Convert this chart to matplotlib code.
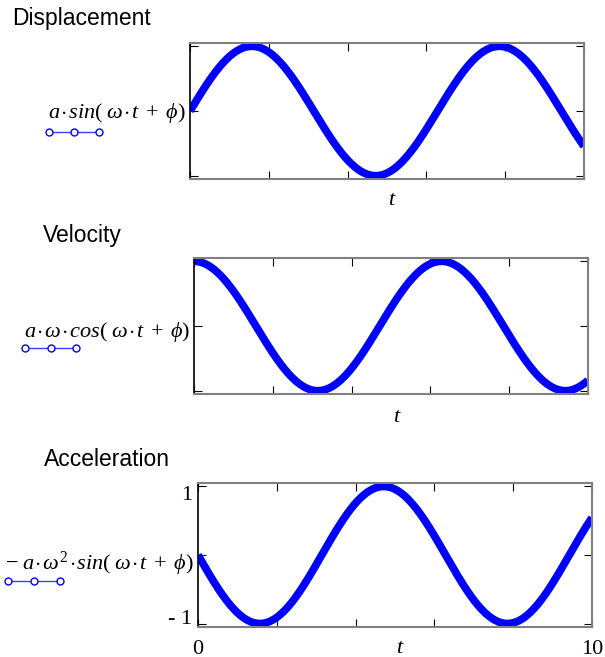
import numpy as np
import matplotlib
matplotlib.use("Agg")
import matplotlib.pyplot as plt
from matplotlib.lines import Line2D

matplotlib.rcParams["mathtext.fontset"] = "custom"
matplotlib.rcParams["mathtext.rm"] = "Liberation Serif"
matplotlib.rcParams["mathtext.it"] = "Liberation Serif:italic"
matplotlib.rcParams["mathtext.bf"] = "Liberation Serif:bold"

# motion parameters for x(t) = a*sin(w*t + phi)
a = 1.0
omega = 1.0
phi = 0.0
t_min, t_max = 0, 10
t = np.linspace(t_min, t_max, 600)

titles = ["Displacement", "Velocity", "Acceleration"]
dot = r"\hspace{0.1}{\cdot}\hspace{0.1}"
trace_labels = [
    rf"$a{dot}sin(\;\omega{dot}t\;+\;\phi)$",
    rf"$a{dot}\omega{dot}cos(\;\omega{dot}t\;+\;\phi)$",
    rf"${{-}}\;a{dot}\omega^{{2}}{dot}sin(\;\omega{dot}t\;+\;\phi)$",
]
series = [
    a * np.sin(omega * t + phi),
    a * omega * np.cos(omega * t + phi),
    -a * omega**2 * np.sin(omega * t + phi),
]
x_ticks = [0, 2, 4, 6, 8, 10]
y_ticks = [-1, 0, 1]

W, H = 605, 657
fig = plt.figure(figsize=(W / 100, H / 100), dpi=100)


def fx(px):
    return px / W


def fy(py):
    return 1 - py / H


# panel boxes in pixels: left, top, right, bottom
boxes = [(190, 43, 584, 179), (194, 258, 588, 394), (198, 483, 592, 627)]
title_pos = [(12, 25), (43, 242), (44, 466)]
label_pos = [(186, 118), (190, 337), (194, 570)]
legend_pos = [(49, 99, 132), (25, 76, 348), (8, 60, 581)]
xlabel_pos = [(392, 205), (397, 422), (400, 653)]

serif = "Liberation Serif"
fs = 16

for i, (l, tp, r, b) in enumerate(boxes):
    ax = fig.add_axes([fx(l), fy(b), fx(r - l), (b - tp) / H])
    ax.plot(t, series[i], color="#0000ff", lw=5.6, solid_capstyle="butt")
    ax.set_xlim(t_min, t_max)
    ax.set_ylim(-1.05, 1.05)
    ax.set_xticks(x_ticks)
    ax.set_yticks(y_ticks)
    ax.tick_params(direction="in", length=5.8, width=0.8, color="black",
                   top=True, right=True, labelsize=fs)
    for lab in ax.get_xticklabels() + ax.get_yticklabels():
        lab.set_family(serif)

    if i == 2:
        ax.set_xticklabels(["0", "", "", "", "", "10"])
        ax.set_yticklabels(["- 1", "", "1"])
        ax.tick_params(axis="x", pad=9)
        ax.tick_params(axis="y", pad=4)
        ylabs = ax.get_yticklabels()
        ylabs[0].set_va("baseline")
        ylabs[2].set_va("top")
    else:
        ax.set_xticklabels([])
        ax.set_yticklabels([])

    ax.spines["left"].set_color("black")
    ax.spines["left"].set_linewidth(1.2)
    for side in ["top", "right", "bottom"]:
        ax.spines[side].set_color("#808080")
        ax.spines[side].set_linewidth(1.5)

    tx, ty = title_pos[i]
    fig.text(fx(tx), fy(ty), titles[i], family="Liberation Sans",
             fontsize=16.5, ha="left", va="baseline")

    lx, ly = label_pos[i]
    fig.text(fx(lx), fy(ly), trace_labels[i], fontsize=fs,
             ha="right", va="baseline")

    x0, x1, yy = legend_pos[i]
    fig.add_artist(Line2D([fx(x0), fx(x1)], [fy(yy), fy(yy)],
                          transform=fig.transFigure, color="#4040ff", lw=1.0))
    fig.add_artist(Line2D([fx(x0), fx((x0 + x1) / 2), fx(x1)], [fy(yy)] * 3,
                          transform=fig.transFigure, ls="none", marker="o",
                          ms=5, mfc="white", mec="#0000ff", mew=1.0))

    xx, xy = xlabel_pos[i]
    fig.text(fx(xx), fy(xy), r"$t$", fontsize=fs, ha="center", va="baseline")

fig.savefig("out.png", dpi=100)
